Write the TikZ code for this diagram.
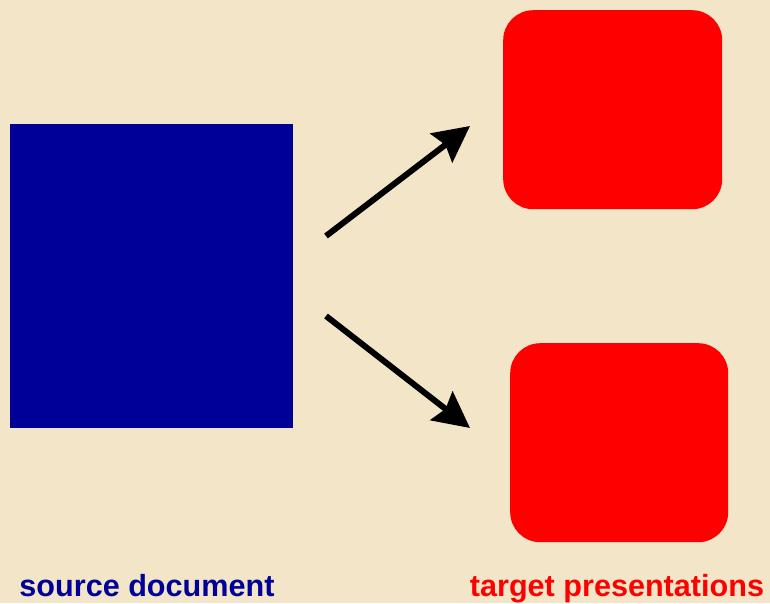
\documentclass[tikz,border=0pt]{standalone}
\usepackage{fontspec}
\setmainfont{Liberation Sans}
\usetikzlibrary{arrows.meta}
\definecolor{bg}{RGB}{242,229,200}
\definecolor{srcblue}{RGB}{0,0,153}
\definecolor{tgtred}{RGB}{255,0,0}
\begin{document}
\begin{tikzpicture}[x=1pt,y=-1pt,
  srcbox/.style={fill=srcblue,draw=none,inner sep=0pt,anchor=north west},
  tgtbox/.style={fill=tgtred,draw=none,rounded corners=30pt,inner sep=0pt,anchor=north west},
  conn/.style={line width=6pt,-{Stealth[length=36pt,width=36pt,inset=5pt]}},
  lbl/.style={font=\fontsize{30.6}{36}\selectfont\bfseries,inner sep=0pt,anchor=base}]
\fill[bg] (0,0) rectangle (770,603);
\useasboundingbox (0,0) rectangle (770,603);
\node[srcbox,minimum width=283pt,minimum height=304pt] (src) at (10,124) {};
\node[tgtbox,minimum width=219pt,minimum height=199pt] (t1) at (503,10) {};
\node[tgtbox,minimum width=218pt,minimum height=199pt] (t2) at (510,343) {};
\coordinate (a1s) at (326,236);
\coordinate (a1e) at (470,126);
\coordinate (a2s) at (326,316);
\coordinate (a2e) at (470,428);
\draw[conn] (a1s) -- (a1e);
\draw[conn] (a2s) -- (a2e);
\node[lbl,text=srcblue] (l1) at (147,596) {source document};
\node[lbl,text=tgtred] (l2) at (617,596) {target presentations};
\end{tikzpicture}
\end{document}
